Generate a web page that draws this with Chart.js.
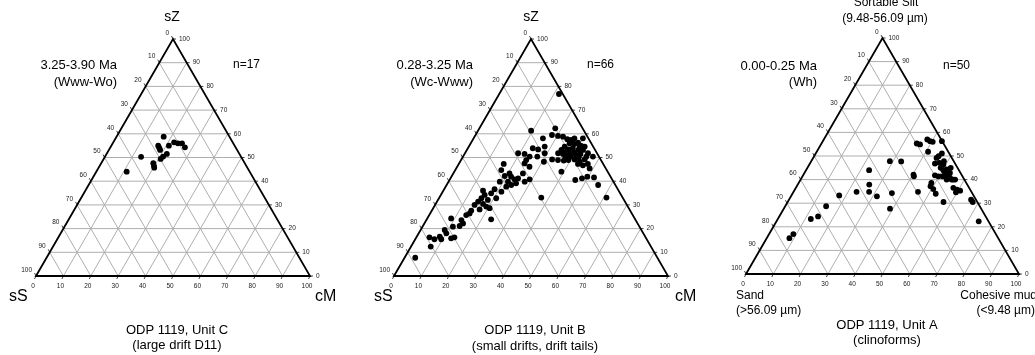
<!DOCTYPE html>
<html>
<head>
<meta charset="utf-8">
<script src="https://cdn.jsdelivr.net/npm/chart.js"></script>
<style>
  html, body { margin: 0; padding: 0; background: #fff; }
  #wrap { position: relative; width: 1035px; height: 355px; overflow: hidden; }
  #wrap canvas { position: absolute; top: 0; }
</style>
</head>
<body>
<div id="wrap">
  <canvas id="unitC" style="left:0px" width="345" height="355"></canvas>
  <canvas id="unitB" style="left:345px" width="350" height="355"></canvas>
  <canvas id="unitA" style="left:690px" width="345" height="355"></canvas>
</div>
<script>
// --- data: ternary composition in % (sZ = sortable silt, cM = cohesive mud, sS = rest) ---
const tickValues = [0, 10, 20, 30, 40, 50, 60, 70, 80, 90, 100];

// Unit C, 3.25-3.90 Ma
const unitC_sZ = [58.8, 55.0, 54.0, 55.0, 56.4, 56.0, 56.0, 54.3, 51.5, 50.4, 49.4, 50.3, 47.6, 46.5, 45.7, 44.0, 53.2];
const unitC_cM = [17.2, 17.1, 18.0, 21.0, 22.2, 23.8, 25.3, 27.2, 22.0, 21.2, 20.8, 13.2, 19.0, 19.8, 20.3, 11.1, 18.7];

// Unit B, 0.28-3.25 Ma
const unitB_sZ = [
  76.8, 62.3, 59.5, 59.1, 58.8, 57.7, 57.4, 58.1, 58.1, 56.0, 55.7, 56.3, 54.9, 54.6, 53.2, 53.4, 53.9, 53.2, 54.6,
  51.8, 51.5, 51.1, 51.5, 51.1, 51.5, 51.8, 49.2, 48.9, 48.7, 48.9, 49.2, 48.2, 49.2, 50.4, 47.3, 46.7, 47.3, 45.4,
  44.0, 40.5, 41.2, 41.9, 41.6, 38.4, 33.1, 33.1,
  52.5, 50.4, 52.0, 50.1, 50.4, 53.2, 50.4, 54.6,
  61.3, 58.1, 54.6, 53.9, 53.4, 51.8, 51.8, 51.5, 50.4, 50.4, 48.2, 48.9, 47.5, 46.1, 47.3, 44.7, 43.3, 42.2, 41.9,
  40.8, 41.2, 43.3, 39.8, 38.4, 39.1, 39.8, 40.8, 39.8, 37.7, 35.6,
  36.6, 36.0, 34.9, 34.2, 32.8, 32.8, 32.1, 31.4, 30.4, 30.0, 29.3, 28.6, 28.1, 27.6, 23.9, 26.4, 25.7, 23.6, 24.3,
  22.2, 21.1, 20.8, 19.4, 18.0, 16.6, 15.5, 16.3, 15.9, 16.3, 15.5, 12.4, 7.7
];
const unitB_cM = [
  21.8, 27.7, 27.9, 30.3, 32.3, 34.4, 36.0, 36.8, 39.9, 36.1, 38.0, 39.0, 40.9, 35.0, 34.5, 37.0, 38.3, 40.6, 42.3,
  34.0, 35.9, 37.7, 38.9, 40.9, 42.3, 44.9, 33.1, 35.4, 37.6, 39.2, 41.3, 43.7, 45.0, 47.4, 43.5, 45.6, 47.1, 48.7,
  39.1, 45.9, 48.0, 49.6, 52.2, 55.3, 61.0, 37.2,
  36.7, 39.3, 39.7, 42.4, 37.3, 42.4, 45.0, 40.5,
  19.4, 25.3, 27.7, 23.7, 25.9, 29.1, 19.4, 21.9, 24.3, 27.1, 30.6, 23.8, 23.9, 26.4, 16.4, 16.8, 20.5, 19.3, 21.8,
  23.6, 24.7, 25.4, 21.7, 23.6, 25.0, 27.8, 29.1, 18.7, 22.1, 21.4,
  18.4, 14.5, 18.0, 16.0, 15.5, 20.9, 18.2, 15.0, 17.3, 14.4, 19.0, 20.6, 17.2, 14.4, 23.5, 14.4, 13.5, 12.8, 8.7,
  14.1, 13.4, 11.1, 8.8, 10.1, 8.4, 7.0, 4.8, 12.9, 13.9, 9.5, 7.2, 3.9
];

// Unit A, 0.00-0.25 Ma
const unitA_sZ = [
  15.2, 16.9, 23.3, 24.4, 28.7, 33.3, 34.8, 34.8, 37.9, 44.0, 32.9, 34.3, 27.7, 47.8, 47.7, 41.4, 42.1, 34.8,
  55.3, 54.9, 57.0, 56.3, 56.0, 56.3, 51.8, 51.1, 49.2, 49.9, 46.8, 47.1, 47.8, 46.4, 45.0, 44.0, 42.8, 42.1,
  41.4, 40.7, 40.0, 41.4, 41.4, 41.8, 44.3, 42.8, 45.0, 40.0, 40.0, 40.0, 38.6, 37.2, 36.0, 34.0, 36.5, 35.7,
  35.3, 34.6, 31.5, 30.5, 30.5, 22.3
];
const unitA_cM = [
  8.3, 8.9, 12.1, 14.2, 15.0, 17.5, 23.1, 27.7, 26.2, 23.1, 31.5, 36.3, 38.9, 28.8, 33.0, 40.8, 40.3, 45.6,
  34.9, 36.3, 37.9, 39.3, 40.4, 43.6, 40.8, 46.2, 45.2, 45.6, 45.8, 47.3, 48.6, 49.1, 48.8, 50.3, 51.5, 52.5,
  53.4, 54.4, 55.9, 51.3, 49.8, 48.3, 51.4, 53.3, 52.5, 53.5, 55.3, 56.6, 48.6, 49.0, 50.6, 52.5, 57.7, 59.4,
  60.8, 59.6, 66.7, 67.8, 57.1, 74.1
];

const H = Math.sqrt(3) / 2;

// sZ/cM -> cartesian (sS at left, cM at right, sZ at top)
function toPoints(sZ, cM) {
  return sZ.map((z, i) => ({ x: cM[i] + z / 2, y: z * H }));
}

// grille, bord du triangle et graduations
const ternaryGrid = {
  id: 'ternaryGrid',
  beforeDatasetsDraw(chart) {
    const { ctx, scales: { x, y } } = chart;
    const P = (sZ, cM) => [x.getPixelForValue(cM + sZ / 2), y.getPixelForValue(sZ * H)];
    const line = (a, b) => { ctx.beginPath(); ctx.moveTo(a[0], a[1]); ctx.lineTo(b[0], b[1]); ctx.stroke(); };

    ctx.save();
    ctx.strokeStyle = '#aeaeae';
    ctx.lineWidth = 1;
    tickValues.forEach(v => {
      if (v === 0 || v === 100) return;
      line(P(v, 0), P(v, 100 - v));          // sZ constant
      line(P(0, v), P(100 - v, v));          // cM constant
      line(P(100 - v, 0), P(0, 100 - v));    // sS constant
    });

    // ticks
    ctx.strokeStyle = '#444';
    tickValues.forEach(v => {
      const b = P(0, v); line(b, [b[0] - 1.5, b[1] + 3]);
      const l = P(100 - v, 0); line(l, [l[0] - 1.5, l[1] - 3]);
      const r = P(v, 100 - v); line(r, [r[0] + 3, r[1]]);
    });

    ctx.strokeStyle = '#000';
    ctx.lineWidth = 1.8;
    ctx.lineJoin = 'miter';
    const a = P(0, 0), t = P(100, 0), c = P(0, 100);
    ctx.beginPath();
    ctx.moveTo(a[0], a[1]); ctx.lineTo(t[0], t[1]); ctx.lineTo(c[0], c[1]); ctx.closePath();
    ctx.stroke();

    ctx.fillStyle = '#1a1a1a';
    ctx.font = '6.5px "Liberation Sans", Arial, sans-serif';
    ctx.textBaseline = 'middle';
    tickValues.forEach(v => {
      const b = P(0, v);
      ctx.textAlign = 'center';
      ctx.fillText(String(v), b[0] - 3, b[1] + 10);
      const l = P(100 - v, 0);
      ctx.textAlign = 'right';
      ctx.fillText(String(v), l[0] - 4, l[1] - 6);
      const r = P(v, 100 - v);
      ctx.textAlign = 'left';
      ctx.fillText(String(v), r[0] + 6, r[1]);
    });
    ctx.restore();
  },
  afterDraw(chart, args, opts) {
    const { ctx } = chart;
    ctx.save();
    ctx.fillStyle = '#000';
    ctx.textBaseline = 'middle';
    (opts.texts || []).forEach(([txt, tx, ty, size, align]) => {
      ctx.font = size + 'px "Liberation Sans", Arial, sans-serif';
      ctx.textAlign = align || 'center';
      ctx.fillText(txt, tx, ty);
    });
    ctx.restore();
  }
};

function makePanel(id, sZ, cM, pad, texts) {
  return new Chart(document.getElementById(id), {
    type: 'scatter',
    data: {
      datasets: [{
        data: toPoints(sZ, cM),
        pointRadius: 2.9,
        pointBackgroundColor: '#000',
        pointBorderWidth: 0,
        clip: false
      }]
    },
    options: {
      responsive: false,
      animation: false,
      layout: { padding: pad },
      plugins: {
        legend: { display: false },
        tooltip: { enabled: false },
        ternaryGrid: { texts: texts }
      },
      scales: {
        x: { type: 'linear', min: 0, max: 100, display: false },
        y: { type: 'linear', min: 0, max: 100 * H, display: false }
      }
    },
    plugins: [ternaryGrid]
  });
}

makePanel('unitC', unitC_sZ, unitC_cM, { left: 36, right: 35, top: 39, bottom: 79 }, [
  ['sZ', 172, 17, 14],
  ['3.25-3.90 Ma', 117, 65, 13, 'right'],
  ['(Www-Wo)', 117, 82, 13, 'right'],
  ['n=17', 233, 65, 12, 'left'],
  ['sS', 9, 297, 16, 'left'],
  ['cM', 315, 297, 16, 'left'],
  ['ODP 1119, Unit C', 177, 330, 13],
  ['(large drift D11)', 177, 345, 13]
]);

makePanel('unitB', unitB_sZ, unitB_cM, { left: 49, right: 27, top: 39, bottom: 79 }, [
  ['sZ', 186, 17, 14],
  ['0.28-3.25 Ma', 128, 65, 13, 'right'],
  ['(Wc-Www)', 128, 82, 13, 'right'],
  ['n=66', 242, 65, 12, 'left'],
  ['sS', 29, 297, 16, 'left'],
  ['cM', 330, 297, 16, 'left'],
  ['ODP 1119, Unit B', 190, 330, 13],
  ['(small drifts, drift tails)', 190, 346, 13]
]);

makePanel('unitA', unitA_sZ, unitA_cM, { left: 56, right: 16, top: 38, bottom: 81 }, [
  ['Sortable Silt', 196, 3, 12],
  ['(9.48-56.09 \u00b5m)', 195, 19, 12],
  ['0.00-0.25 Ma', 127, 66, 13, 'right'],
  ['(Wh)', 127, 82, 13, 'right'],
  ['n=50', 253, 66, 12, 'left'],
  ['Sand', 46, 296, 12, 'left'],
  ['(>56.09 \u00b5m)', 46, 311, 12, 'left'],
  ['Cohesive mud', 347, 296, 12, 'right'],
  ['(<9.48 \u00b5m)', 345, 311, 12, 'right'],
  ['ODP 1119, Unit A', 197, 325, 13],
  ['(clinoforms)', 197, 340, 13]
]);
</script>
</body>
</html>
